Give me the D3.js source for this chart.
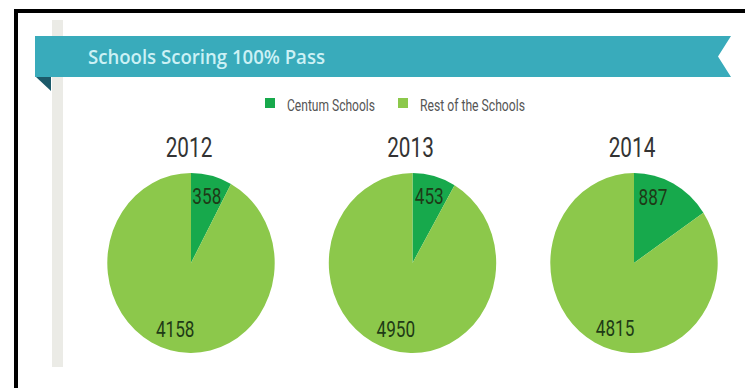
<!DOCTYPE html>
<html>
<head>
<meta charset="utf-8">
<script src="https://cdn.jsdelivr.net/npm/d3@7"></script>
<style>
  html, body { margin: 0; padding: 0; background: #ffffff; }
  svg { display: block; }
</style>
</head>
<body>
<svg id="chart" width="745" height="388"></svg>
<script>
// Schools scoring 100% pass, per year
const years = ["2012", "2013", "2014"];
const seriesNames = ["Centum Schools", "Rest of the Schools"];
const centumSchools = [358, 453, 887];
const restOfSchools = [4158, 4950, 4815];
const titleText = "Schools Scoring 100% Pass";

const colors = { centum: "#17a94c", rest: "#8cc84b" };
const W = 745, H = 388;
const svg = d3.select("#chart");
const condensedFont = "'Liberation Sans Narrow', 'Roboto', 'Open Sans', sans-serif";

// squeeze a text element horizontally to mimic a condensed face
function condense(sel, factor) {
  sel.each(function () {
    const w = this.getComputedTextLength();
    d3.select(this).attr("textLength", w * factor).attr("lengthAdjust", "spacingAndGlyphs");
  });
}

// frame: black edge on top and left
svg.append("rect").attr("x", 14).attr("y", 9).attr("width", W - 14).attr("height", 4).attr("fill", "#000");
svg.append("rect").attr("x", 14).attr("y", 9).attr("width", 4).attr("height", H - 9).attr("fill", "#000");

// grey vertical rail
svg.append("rect").attr("x", 52).attr("y", 20).attr("width", 11).attr("height", 347).attr("fill", "#ebebe6");

// ribbon banner with notched right end and folded left corner
const bx0 = 35, bx1 = 731, by0 = 36, by1 = 77, notch = 13;
svg.append("path")
  .attr("d", `M${bx0},${by0} L${bx1},${by0} L${bx1 - notch},${(by0 + by1) / 2} L${bx1},${by1} L${bx0},${by1} Z`)
  .attr("fill", "#39abbb");
svg.append("path")
  .attr("d", `M${bx0 + 1},${by1} L${bx0 + 16},${by1} L${bx0 + 16},${by1 + 14} Z`)
  .attr("fill", "#1c5a6a");

svg.append("text")
  .attr("x", 88).attr("y", 64)
  .attr("font-family", "'Open Sans', sans-serif")
  .attr("font-weight", 600)
  .attr("font-size", 19)
  .attr("fill", "#ccf1f5")
  .text(titleText)
  .attr("textLength", 237).attr("lengthAdjust", "spacingAndGlyphs");

// legend
const legendColors = [colors.centum, colors.rest];
let lx = 265;
seriesNames.forEach((name, i) => {
  svg.append("rect").attr("x", lx).attr("y", 98).attr("width", 10).attr("height", 10).attr("fill", legendColors[i]);
  const t = svg.append("text")
    .attr("x", lx + 22).attr("y", 111)
    .attr("font-family", condensedFont)
    .attr("font-size", 17)
    .attr("fill", "#555")
    .text(name);
  const target = i === 0 ? 88 : 105;
  t.attr("textLength", target).attr("lengthAdjust", "spacingAndGlyphs");
  lx = lx + 22 + target + 23;
});

// pies
const xPos = d3.scalePoint().domain(years).range([191, 634]);
const cy = 263, radius = 90, xSquash = 0.93;
const pie = d3.pie().sort(null).value(d => d.value);
const arc = d3.arc().innerRadius(0).outerRadius(radius);
const labelRadius = 69;

years.forEach((year, i) => {
  const cx = xPos(year);
  const data = [
    { key: "centum", value: centumSchools[i] },
    { key: "rest", value: restOfSchools[i] }
  ];
  const arcs = pie(data);

  const g = svg.append("g").attr("transform", `translate(${cx},${cy}) scale(${xSquash},1)`);
  g.selectAll("path").data(arcs).join("path")
    .attr("d", arc)
    .attr("fill", d => colors[d.data.key]);

  // year heading
  const yt = svg.append("text")
    .attr("x", cx - 2).attr("y", 157)
    .attr("text-anchor", "middle")
    .attr("font-family", condensedFont)
    .attr("font-size", 28)
    .attr("fill", "#333")
    .text(year);
  condense(yt, 0.74);

  // value labels, kept near the vertical axis of each pie
  arcs.forEach((a, j) => {
    const mid = (a.startAngle + a.endAngle) / 2;
    const base = j === 0 ? 0 : Math.PI;
    const maxOff = 0.3;
    const ang = base + Math.max(-maxOff, Math.min(maxOff, mid - base));
    const lxp = cx + Math.sin(ang) * labelRadius * xSquash;
    const lyp = cy - Math.cos(ang) * labelRadius;
    const t = svg.append("text")
      .attr("x", lxp).attr("y", lyp)
      .attr("text-anchor", "middle")
      .attr("dominant-baseline", "central")
      .attr("font-family", condensedFont)
      .attr("font-size", 22)
      .attr("fill", "#1e3a16")
      .text(a.data.value);
    condense(t, 0.78);
  });
});
</script>
</body>
</html>
